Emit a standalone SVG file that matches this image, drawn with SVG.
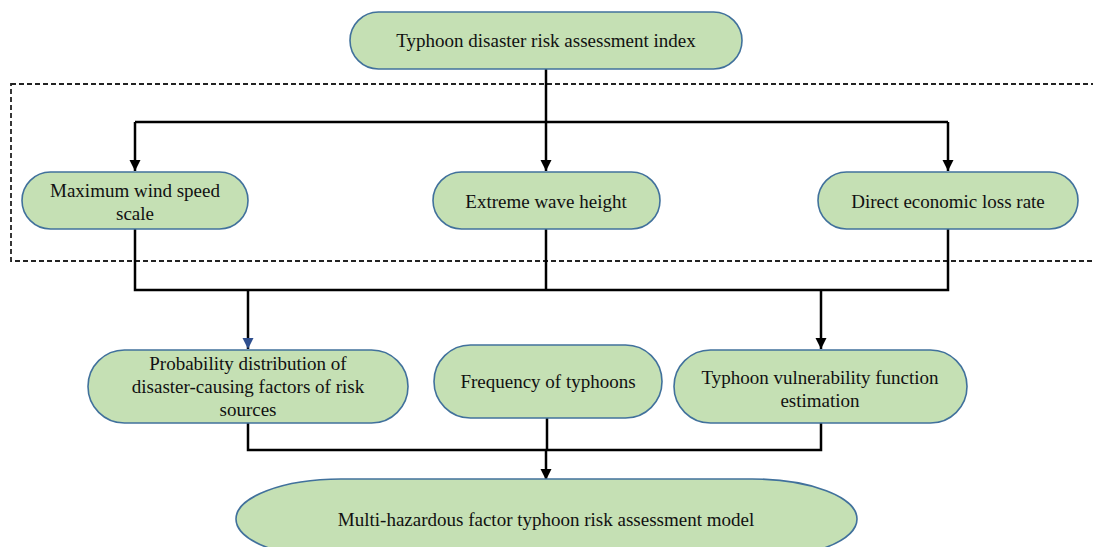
<svg xmlns="http://www.w3.org/2000/svg" width="1093" height="547" viewBox="0 0 1093 547">
<defs>
<marker id="arr" viewBox="0 0 10 10" refX="10" refY="5" markerWidth="4.5" markerHeight="4.5" orient="auto" markerUnits="strokeWidth">
<path d="M0,0 L10,5 L0,10 z" fill="#000"/>
</marker>
<marker id="arrb" viewBox="0 0 10 10" refX="10" refY="5" markerWidth="4.5" markerHeight="4.5" orient="auto" markerUnits="strokeWidth">
<path d="M0,0 L10,5 L0,10 z" fill="#2f4f8f"/>
</marker>
</defs>
<style>
.node{fill:#c5e0b4;stroke:#41719c;stroke-width:1.6}
.t{font-family:"Liberation Serif","Times New Roman",serif;font-size:19px;fill:#111;text-anchor:middle}
.c{fill:none;stroke:#000;stroke-width:2.5}
.dash{fill:none;stroke:#222;stroke-width:1.8;stroke-dasharray:5 3}
</style>
<rect width="1093" height="547" fill="#fff"/>
<rect class="dash" x="11" y="84" width="1100" height="177"/>
<g id="connectors">
<path class="c" d="M546,69 V122"/>
<path class="c" d="M135,122 H948"/>
<path class="c" d="M135,122 V171" marker-end="url(#arr)"/>
<path class="c" d="M546,122 V171" marker-end="url(#arr)"/>
<path class="c" d="M948,122 V171" marker-end="url(#arr)"/>
<path class="c" d="M135,229 V290 H948 V229"/>
<path class="c" d="M546,229 V290"/>
<path class="c" d="M248,290 V349" marker-end="url(#arrb)"/>
<path class="c" d="M821,290 V349" marker-end="url(#arr)"/>
<path class="c" d="M248,423 V450 H821 V423"/>
<path class="c" d="M547,418 V450"/>
<path class="c" d="M546,450 V480" marker-end="url(#arr)"/>
</g>
<g id="n-index">
<rect class="node" x="350" y="12" width="392" height="57" rx="28.5"/>
<text class="t" x="546" y="47">Typhoon disaster risk assessment index</text>
</g>
<g id="n-wind">
<rect class="node" x="22" y="172" width="226" height="57" rx="28.5"/>
<text class="t" x="135" y="197">Maximum wind speed</text>
<text class="t" x="135" y="220">scale</text>
</g>
<g id="n-wave">
<rect class="node" x="433" y="172" width="227" height="57" rx="28.5"/>
<text class="t" x="546" y="208">Extreme wave height</text>
</g>
<g id="n-loss">
<rect class="node" x="818" y="172" width="260" height="57" rx="28.5"/>
<text class="t" x="948" y="208">Direct economic loss rate</text>
</g>
<g id="n-prob">
<rect class="node" x="88" y="350" width="320" height="73" rx="36.5"/>
<text class="t" x="248" y="370">Probability distribution of</text>
<text class="t" x="248" y="393">disaster-causing factors of risk</text>
<text class="t" x="248" y="416">sources</text>
</g>
<g id="n-freq">
<rect class="node" x="434" y="345" width="228" height="73" rx="36.5"/>
<text class="t" x="548" y="388">Frequency of typhoons</text>
</g>
<g id="n-vuln">
<rect class="node" x="674" y="350" width="293" height="73" rx="36.5"/>
<text class="t" x="820" y="384">Typhoon vulnerability function</text>
<text class="t" x="820" y="407">estimation</text>
</g>
<g id="n-model">
<rect class="node" x="236" y="479" width="621" height="80" rx="105" ry="40"/>
<text class="t" x="546" y="526">Multi-hazardous factor typhoon risk assessment model</text>
</g>
</svg>
